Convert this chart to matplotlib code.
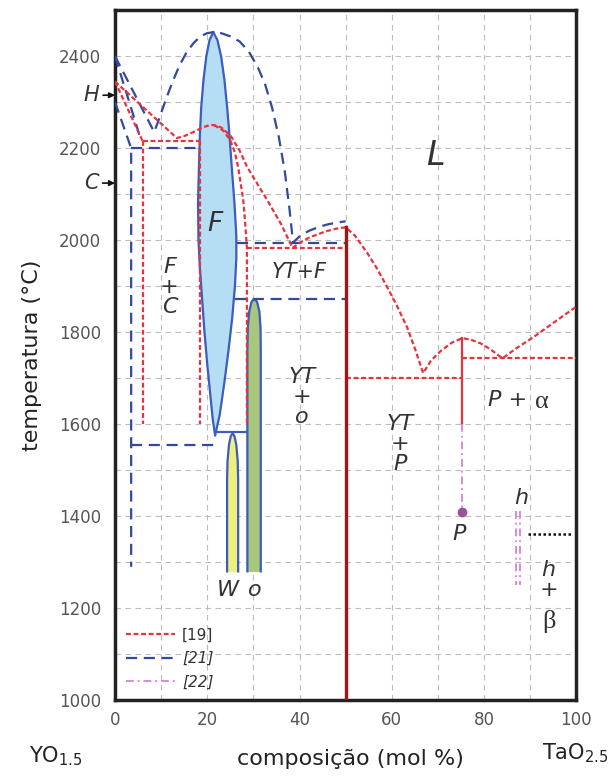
import numpy as np
import matplotlib.pyplot as plt
from matplotlib.lines import Line2D

# Cores
vermelho = "#e8323c"
vermelho_escuro = "#a31515"
azul = "#34489c"
azul_solido = "#3d5cbf"
rosa = "#d98ad9"
roxo = "#a0509a"
cinza_texto = "#333333"

# ---- Dados lidos do diagrama (composição mol % TaO2.5, temperatura °C) ----
# [21] liquidus (tracejado azul)
liq21_x = [0, 8.5, 9.5, 11, 12.5, 14, 15.5, 17, 18.5, 20, 21.3, 23, 25, 27, 29, 31,
           32.5, 34, 35.5, 36.8, 37.8, 38.6, 40, 42, 44, 46, 48, 50]
liq21_t = [2400, 2235, 2262, 2305, 2345, 2380, 2408, 2428, 2443, 2450, 2452, 2450, 2443,
           2432, 2410, 2375, 2340, 2290, 2225, 2150, 2070, 1995, 2008, 2020, 2028, 2034,
           2038, 2041]
sol21a_x = [0, 5.5]
sol21a_t = [2400, 2222]
sol21b_x = [0, 3.5, 3.5]
sol21b_t = [2300, 2200, 1290]
h21_2200_x = [3.5, 18.3]
h21_2200_t = [2200, 2200]
h21_1554_x = [3.5, 22]
h21_1554_t = [1554, 1554]
h21_1993_x = [26.4, 50]
h21_1993_t = [1993, 1993]
h21_1872_x = [26.0, 50]
h21_1872_t = [1872, 1872]
box21_x = [21.9, 28.7]
box21_t = [1583, 1583]

# fase F (lente azul)
f_esq_x = [21.3, 20.5, 19.8, 19.2, 18.7, 18.4, 18.2, 18.0, 18.1, 18.4, 18.9, 19.4, 20.0,
           20.6, 21.2, 21.7]
f_esq_t = [2452, 2435, 2400, 2350, 2290, 2230, 2160, 2080, 2000, 1940, 1870, 1800, 1730,
           1670, 1610, 1576]
f_dir_x = [21.3, 22.2, 23.0, 23.7, 24.3, 24.8, 25.3, 25.9, 26.3, 26.3, 26.0, 25.4, 24.6,
           23.7, 22.7, 21.7]
f_dir_t = [2452, 2435, 2400, 2350, 2290, 2230, 2160, 2080, 2010, 1960, 1900, 1830, 1760,
           1690, 1620, 1576]

# fase W (amarela) e fase o (verde)
w_x = [24.3, 24.3, 24.4, 24.7, 25.1, 25.5, 25.9, 26.3, 26.6, 26.7, 26.7]
w_t = [1280, 1480, 1520, 1555, 1574, 1580, 1574, 1555, 1520, 1480, 1280]
o_x = [28.7, 28.7, 28.8, 29.1, 29.6, 30.2, 30.8, 31.3, 31.55, 31.6, 31.6]
o_t = [1280, 1760, 1810, 1845, 1866, 1872, 1866, 1845, 1810, 1760, 1280]

# [19] (pontilhado vermelho)
liq19a_x = [0, 6.0]
liq19a_t = [2345, 2215]
liq19b_x = [0, 13.4, 15, 17, 19, 20.5, 21.5, 23, 25, 27, 28.6, 31, 33, 36, 38.5, 40, 42,
            44, 46, 48, 50, 52, 54.7, 57, 59, 61, 63.3, 65, 66.8, 68.5, 70.5, 73, 75.3,
            77, 79.2, 81.5, 84, 87, 90.7, 95, 99.8]
liq19b_t = [2345, 2222, 2226, 2235, 2245, 2250, 2250, 2245, 2228, 2195, 2160, 2120, 2087,
            2035, 1983, 1994, 2005, 2013, 2020, 2025, 2028, 2010, 1972, 1935, 1898, 1860,
            1811, 1765, 1711, 1738, 1758, 1777, 1787, 1784, 1776, 1762, 1743, 1765, 1789,
            1820, 1854]
sol19_x = [21.5, 23.5, 25.0, 26.0, 26.7, 27.3, 27.8, 28.2, 28.6, 28.6]
sol19_t = [2250, 2238, 2217, 2190, 2159, 2120, 2087, 2040, 1983, 1600]
h19_2215_x = [6.0, 18.4]
h19_2215_t = [2215, 2215]
v19_6_x = [6.0, 6.0]
v19_6_t = [2215, 1600]
v19_18_x = [18.4, 18.4]
v19_18_t = [2215, 1600]
h19_1983_x = [28.6, 50]
h19_1983_t = [1983, 1983]
h19_1700_x = [50, 75.3]
h19_1700_t = [1700, 1700]
h19_1743_x = [75.3, 100]
h19_1743_t = [1743, 1743]
v19_75_x = [75.3, 75.3]
v19_75_t = [1787, 1600]
yt_x = [50, 50]
yt_t = [2028, 1000]

# [22] (traço-ponto rosa)
v22_75_x = [75.3, 75.3]
v22_75_t = [1600, 1410]
p22_x = [75.3]
p22_t = [1410]
h22a_x = [86.9, 86.9]
h22b_x = [87.7, 87.7]
h22_t = [1412, 1250]
trans_x = [89.5, 99]
trans_t = [1362, 1362]

# transições do Y2O3
h_temp = 2315
c_temp = 2124

fig = plt.figure(figsize=(6.15, 7.78), dpi=100)
ax = fig.add_axes([0.187, 0.1, 0.75, 0.887])

ax.set_xlim(0, 100)
ax.set_ylim(1000, 2500)
ax.set_xticks(np.arange(0, 101, 20))
ax.set_xticks(np.arange(0, 101, 10), minor=True)
ax.set_yticks(np.arange(1000, 2401, 200))
ax.set_yticks(np.arange(1000, 2501, 100), minor=True)
ax.grid(True, which="both", color="#bdbdbd", linestyle=(0, (5, 4)), linewidth=0.8)
ax.set_axisbelow(True)
ax.tick_params(which="both", length=0, labelsize=12, labelcolor="#555555")
ax.tick_params(axis="y", pad=10)
ax.tick_params(axis="x", pad=8)
for s in ax.spines.values():
    s.set_linewidth(2.5)
    s.set_color("#222222")

pont = (0, (2.2, 1.2))
trac = (0, (5, 3))
dp = (0, (4, 2, 1, 2))

# lentes preenchidas
ax.fill(f_esq_x + f_dir_x[::-1], f_esq_t + f_dir_t[::-1], color="#b5ddf3", zorder=2)
ax.plot(f_esq_x, f_esq_t, color=azul_solido, lw=1.6, zorder=3)
ax.plot(f_dir_x, f_dir_t, color=azul_solido, lw=1.6, zorder=3)
ax.fill(w_x, w_t, color="#eef07e", zorder=2)
ax.plot(w_x, w_t, color=azul_solido, lw=1.6, zorder=3)
ax.fill(o_x, o_t, color="#a9c77c", zorder=2)
ax.plot(o_x, o_t, color=azul_solido, lw=1.6, zorder=3)
ax.plot(box21_x, box21_t, color=azul_solido, lw=1.6, zorder=3)

# [21]
for xs, ts in [(liq21_x, liq21_t), (sol21a_x, sol21a_t), (sol21b_x, sol21b_t),
               (h21_2200_x, h21_2200_t), (h21_1554_x, h21_1554_t),
               (h21_1993_x, h21_1993_t), (h21_1872_x, h21_1872_t)]:
    ax.plot(xs, ts, color=azul, lw=1.6, linestyle=trac, zorder=4)

# [19]
for xs, ts in [(liq19a_x, liq19a_t), (liq19b_x, liq19b_t), (sol19_x, sol19_t),
               (h19_2215_x, h19_2215_t), (v19_6_x, v19_6_t), (v19_18_x, v19_18_t),
               (h19_1983_x, h19_1983_t), (h19_1700_x, h19_1700_t), (h19_1743_x, h19_1743_t)]:
    ax.plot(xs, ts, color=vermelho, lw=1.6, linestyle=pont, zorder=5)
ax.plot(v19_75_x, v19_75_t, color=vermelho, lw=1.6, zorder=5)
ax.plot(yt_x, yt_t, color=vermelho_escuro, lw=2.4, zorder=6)

# [22]
ax.plot(v22_75_x, v22_75_t, color=rosa, lw=1.4, linestyle=dp, zorder=5)
ax.plot(p22_x, p22_t, "o", color=roxo, ms=6, zorder=6)
ax.plot(h22a_x, h22_t, color=rosa, lw=1.4, linestyle=dp, zorder=5)
ax.plot(h22b_x, h22_t, color=rosa, lw=1.4, linestyle=dp, zorder=5)
ax.plot(trans_x, trans_t, color="#111111", lw=1.8, linestyle=(0, (1, 1)), zorder=5)

# rótulos das regiões
rot = dict(style="italic", color=cinza_texto, ha="center", va="center", zorder=7)
grego = dict(family="Liberation Serif", color=cinza_texto, ha="center", va="center",
             fontsize=19, zorder=7)
ax.text(69.4, 2185, "L", fontsize=24, **rot)
ax.text(21.7, 2035, "F", fontsize=19, **rot)
ax.text(11.8, 1898, "F\n+\nC", fontsize=16, linespacing=1.0, **rot)
ax.text(40.0, 1930, "YT+F", fontsize=15, **rot)
ax.text(40.5, 1658, "YT\n+\no", fontsize=16, linespacing=1.0, **rot)
ax.text(61.8, 1556, "YT\n+\nP", fontsize=16, linespacing=1.0, **rot)
ax.text(85.0, 1652, "P +", fontsize=16, **rot)
ax.text(92.6, 1648, "α", **grego)
ax.text(74.5, 1362, "P", fontsize=16, **rot)
ax.text(88.0, 1440, "h", fontsize=16, **rot)
ax.text(94.0, 1262, "h\n+", fontsize=16, linespacing=1.0, **rot)
ax.text(94.0, 1172, "β", **grego)
ax.text(24.5, 1240, "W", fontsize=16, **rot)
ax.text(30.2, 1240, "o", fontsize=16, **rot)

# setas H e C
for nome, temp in [("H", h_temp), ("C", c_temp)]:
    ax.annotate(nome, xy=(0, temp), xytext=(-5.2, temp), fontsize=15, style="italic",
                color=cinza_texto, ha="center", va="center", annotation_clip=False,
                arrowprops=dict(arrowstyle="-|>", color="#111111", lw=1.2,
                                mutation_scale=8, shrinkA=1, shrinkB=0))

# legenda
handles = [Line2D([], [], color=vermelho, lw=1.6, linestyle=pont),
           Line2D([], [], color=azul, lw=1.6, linestyle=trac),
           Line2D([], [], color=rosa, lw=1.4, linestyle=dp)]
leg = ax.legend(handles, ["[19]", "[21]", "[22]"], loc="lower left", frameon=False,
                fontsize=11, handlelength=3.2, labelspacing=0.55, borderaxespad=0.3,
                handletextpad=0.5)
for t in leg.get_texts():
    t.set_color(cinza_texto)
leg.get_texts()[1].set_style("italic")
leg.get_texts()[2].set_style("italic")

ax.set_ylabel("temperatura (°C)", fontsize=16, color="#222222", labelpad=12)
fig.text(0.57, 0.025, "composição (mol %)", fontsize=16, color="#222222", ha="center", va="center")
fig.text(0.09, 0.028, "YO$_{1.5}$", fontsize=15, color="#222222", ha="center", va="center")
fig.text(0.935, 0.032, "TaO$_{2.5}$", fontsize=15, color="#222222", ha="center", va="center")

fig.savefig("out.png", dpi=100)
